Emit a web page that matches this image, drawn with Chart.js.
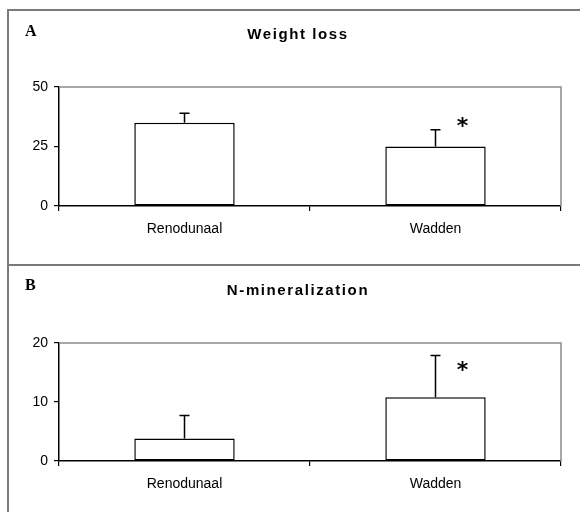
<!DOCTYPE html>
<html>
<head>
<meta charset="utf-8">
<script src="https://cdn.jsdelivr.net/npm/chart.js@4.4.1/dist/chart.umd.min.js"></script>
<style>
  body { margin: 0; background: #fff; width: 580px; height: 512px; position: relative; overflow: hidden; }
  .frameTop { position: absolute; left: 7px; top: 9px; width: 573px; height: 0; border-top: 2px solid #7a7a7a; }
  .frameLeft { position: absolute; left: 7px; top: 9px; width: 0; height: 503px; border-left: 2px solid #7a7a7a; }
  .frameMid { position: absolute; left: 7px; top: 264px; width: 573px; height: 0; border-top: 2px solid #7a7a7a; }
  canvas { position: absolute; left: 9px; }
  #chartA { top: 11px; }
  #chartB { top: 267px; }
</style>
</head>
<body>
<div class="frameTop"></div>
<div class="frameLeft"></div>
<div class="frameMid"></div>
<canvas id="chartA" width="571" height="254"></canvas>
<canvas id="chartB" width="571" height="245"></canvas>
<script>
// Data
const sites = ['Renodunaal', 'Wadden'];

const weightLoss = [35, 25];
const weightLossErr = [4, 7];

const nMin = [3.8, 10.8];
const nMinErr = [3.9, 7.1];

// significance marks (site index, value where the * sits)
const weightLossStar = { index: 1, value: 35 };
const nMinStar = { index: 1, value: 16 };

const panelPlugin = {
  id: 'panel',
  afterDatasetsDraw(chart, args, opts) {
    const ctx = chart.ctx;
    const area = chart.chartArea;
    const ys = chart.scales.y;
    ctx.save();

    // grey frame of the plot area (top and right)
    ctx.strokeStyle = '#8a8a8a';
    ctx.lineWidth = 1.5;
    ctx.beginPath();
    ctx.moveTo(area.left, area.top);
    ctx.lineTo(area.right, area.top);
    ctx.lineTo(area.right, area.bottom);
    ctx.stroke();

    // error bars (upper only)
    ctx.strokeStyle = '#000';
    ctx.lineWidth = 1.5;
    const meta = chart.getDatasetMeta(0);
    opts.values.forEach((v, i) => {
      const x = meta.data[i].x;
      const y0 = ys.getPixelForValue(v);
      const y1 = ys.getPixelForValue(v + opts.errors[i]);
      ctx.beginPath();
      ctx.moveTo(x, y0);
      ctx.lineTo(x, y1);
      ctx.moveTo(x - 5, y1);
      ctx.lineTo(x + 5, y1);
      ctx.stroke();
    });

    // asterisk
    ctx.fillStyle = '#000';
    ctx.font = 'bold 22px "DejaVu Sans"';
    ctx.textAlign = 'center';
    ctx.textBaseline = 'middle';
    ctx.fillText('*', meta.data[opts.star.index].x + 27, ys.getPixelForValue(opts.star.value) + 5);

    // title
    ctx.font = 'bold 15px "Liberation Sans", Arial';
    ctx.letterSpacing = '1.6px';
    ctx.fillText(opts.title, opts.titleX, opts.titleY);

    // panel letter
    ctx.letterSpacing = '0px';
    ctx.font = 'bold 16px "Liberation Serif", serif';
    ctx.textAlign = 'left';
    ctx.fillText(opts.letter, 16, opts.letterY);
    ctx.restore();
  }
};

function makeChart(id, values, errors, yMax, yStep, xHeight, title, letter, star, titleY, letterY) {
  return new Chart(document.getElementById(id), {
    type: 'bar',
    data: {
      labels: sites,
      datasets: [{
        data: values,
        backgroundColor: '#fff',
        borderColor: '#000',
        borderWidth: 1.5,
        borderSkipped: false,
        barPercentage: 0.4,
        categoryPercentage: 1
      }]
    },
    options: {
      responsive: false,
      animation: false,
      events: [],
      layout: { padding: { top: 76, right: 19, left: 0, bottom: 0 } },
      plugins: {
        legend: { display: false },
        title: { display: false },
        tooltip: { enabled: false },
        panel: {
          values: values, errors: errors, star: star,
          title: title, titleX: 289, titleY: titleY,
          letter: letter, letterY: letterY
        }
      },
      scales: {
        x: {
          offset: true,
          grid: { offset: true, drawOnChartArea: false, tickLength: 5, color: '#000', lineWidth: 1.2 },
          border: { color: '#000', width: 1.5 },
          ticks: { color: '#000', padding: 10, font: { family: '"Liberation Sans", Arial', size: 14 } },
          afterFit(s) { s.height = xHeight; }
        },
        y: {
          min: 0, max: yMax,
          grid: { drawOnChartArea: false, tickLength: 5, color: '#000', lineWidth: 1.2 },
          border: { color: '#000', width: 1.5 },
          ticks: { stepSize: yStep, color: '#000', padding: 6, font: { family: '"Liberation Sans", Arial', size: 14 } },
          afterFit(s) { s.width = 50; }
        }
      }
    },
    plugins: [panelPlugin]
  });
}

makeChart('chartA', weightLoss, weightLossErr, 50, 25, 59, 'Weight loss', 'A', weightLossStar, 24, 21);
makeChart('chartB', nMin, nMinErr, 20, 10, 51, 'N-mineralization', 'B', nMinStar, 24, 19);
</script>
</body>
</html>
